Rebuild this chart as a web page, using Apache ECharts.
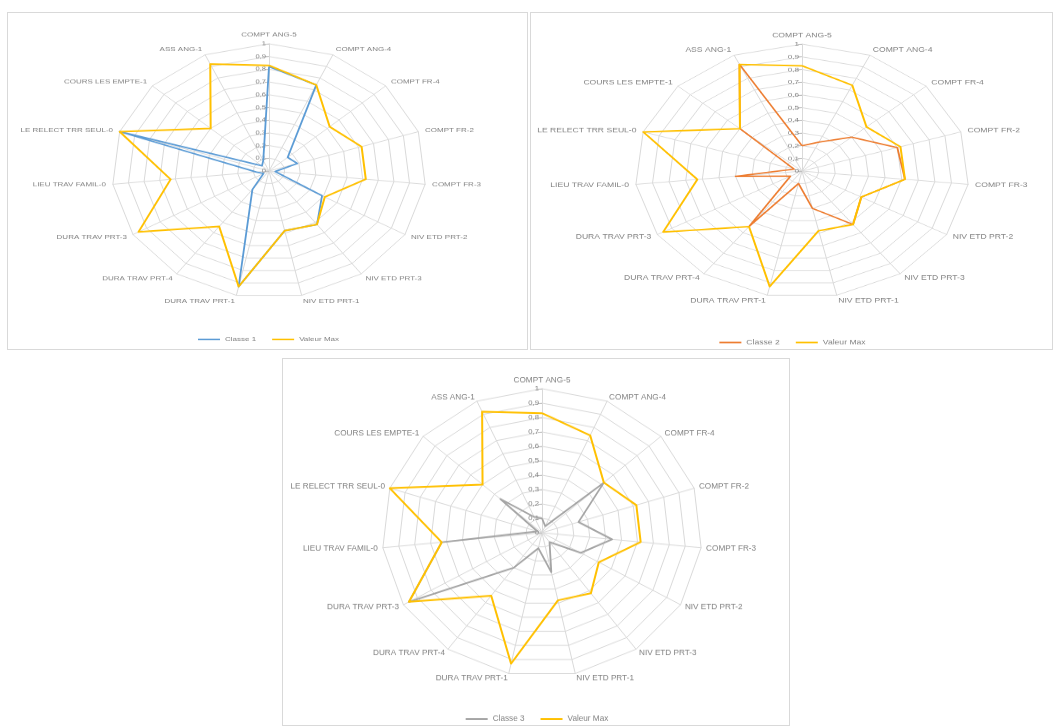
<!DOCTYPE html>
<html>
<head>
<meta charset="utf-8">
<script src="https://cdn.jsdelivr.net/npm/echarts@6/dist/echarts.min.js"></script>
<style>
  html, body { margin: 0; padding: 0; background: #ffffff; }
  body { width: 1062px; height: 726px; position: relative; overflow: hidden; }
  .panel { position: absolute; border: 1px solid #d9d9d9; box-sizing: border-box; overflow: hidden; background: #fff; }
  .chart { position: absolute; left: 0; top: 0; transform-origin: 0 0; }
</style>
</head>
<body>
<div id="p1" class="panel" style="left:7px;top:12px;width:521px;height:338px;"><div id="c1" class="chart"></div></div>
<div id="p2" class="panel" style="left:530px;top:12px;width:523px;height:338px;"><div id="c2" class="chart"></div></div>
<div id="p3" class="panel" style="left:282px;top:358px;width:508px;height:368px;"><div id="c3" class="chart"></div></div>
<script>
// Axes of the radar, clockwise from the top
const categories = [
  'COMPT ANG-5', 'COMPT ANG-4', 'COMPT FR-4', 'COMPT FR-2', 'COMPT FR-3',
  'NIV ETD PRT-2', 'NIV ETD PRT-3', 'NIV ETD PRT-1',
  'DURA TRAV PRT-1', 'DURA TRAV PRT-4', 'DURA TRAV PRT-3',
  'LIEU TRAV FAMIL-0', 'LE RELECT TRR SEUL-0', 'COURS LES EMPTE-1', 'ASS ANG-1'
];

// Scores per class and the maximum over all classes
const classe1   = [0.82, 0.74, 0.16, 0.19, 0.04, 0.39, 0.52, 0.48, 0.93, 0.18, 0.04, 0.08, 1.00, 0.06, 0.09];
const classe2   = [0.20, 0.25, 0.40, 0.60, 0.62, 0.41, 0.52, 0.30, 0.10, 0.54, 0.08, 0.40, 0.05, 0.50, 0.92];
const classe3   = [0.10, 0.05, 0.52, 0.24, 0.44, 0.28, 0.08, 0.28, 0.11, 0.30, 0.96, 0.63, 0.03, 0.35, 0.12];
const valeurMax = [0.83, 0.74, 0.52, 0.62, 0.62, 0.41, 0.52, 0.48, 0.93, 0.54, 0.96, 0.63, 1.00, 0.50, 0.92];

// Scale ticks shown on the first axis
const scaleTicks = ['0', '0,1', '0,2', '0,3', '0,4', '0,5', '0,6', '0,7', '0,8', '0,9', '1'];

const COLORS = { c1: '#5b9bd5', c2: '#ed7d31', c3: '#a5a5a5', max: '#ffc000' };
const GRID = '#d9d9d9';
const TEXT = '#808080';
const FONT = 'Liberation Sans, Arial, sans-serif';

// ECharts lays radar axes out counter-clockwise; keep the first axis on top
// and reverse the rest so the reading order runs clockwise.
const clockwise = arr => [arr[0]].concat(arr.slice(1).reverse());

function radarOption(name, values, color, cx, cy, r, legendTop, fs, gap) {
  return {
    animation: false,
    textStyle: { fontFamily: FONT },
    legend: {
      top: legendTop, left: 'center',
      icon: 'rect', itemWidth: 22, itemHeight: 2, itemGap: 16,
      textStyle: { color: TEXT, fontSize: fs, fontFamily: FONT },
      data: [name, 'Valeur Max']
    },
    radar: {
      center: [cx, cy], radius: r, startAngle: 90, shape: 'polygon',
      splitNumber: 10,
      indicator: clockwise(categories).map(c => ({ name: c, min: 0, max: 1 })),
      axisName: { color: TEXT, fontSize: fs, fontFamily: FONT },
      nameGap: gap,
      axisLine: { lineStyle: { color: GRID, width: 1 } },
      splitLine: { lineStyle: { color: GRID, width: 1 } },
      splitArea: { show: false }
    },
    polar: { center: [cx, cy], radius: r },
    angleAxis: { show: false, startAngle: 90, min: 0, max: 360 },
    radiusAxis: {
      min: 0, max: 1, interval: 0.1,
      axisLine: { show: false },
      splitLine: { show: false },
      axisTick: { show: true, length: 4, lineStyle: { color: '#bfbfbf' } },
      axisLabel: {
        color: TEXT, fontSize: fs - 0.5, fontFamily: FONT, margin: 3,
        formatter: v => scaleTicks[Math.round(v * 10)]
      }
    },
    series: [{
      type: 'radar', symbol: 'none',
      data: [
        { name: name, value: clockwise(values), lineStyle: { color: color, width: 1.8 }, itemStyle: { color: color } },
        { name: 'Valeur Max', value: clockwise(valeurMax), lineStyle: { color: COLORS.max, width: 2 }, itemStyle: { color: COLORS.max } }
      ]
    }]
  };
}

function mount(id, width, height, sy, opt) {
  const el = document.getElementById(id);
  el.style.width = width + 'px';
  el.style.height = (height / sy) + 'px';
  el.style.transform = 'scaleY(' + sy + ')';
  const chart = echarts.init(el, null, { renderer: 'canvas' });
  chart.setOption(opt);
}

// Each panel is drawn with its own vertical flattening
mount('c1', 521, 338, 0.81, radarOption('Classe 1', classe1, COLORS.c1, 261, 195, 157, 394, 8, 7));
mount('c2', 523, 338, 0.76, radarOption('Classe 2', classe2, COLORS.c2, 271, 208, 167, 424, 8.6, 7));
mount('c3', 508, 368, 0.90, radarOption('Classe 3', classe3, COLORS.c3, 259, 193, 160, 391, 8.2, 5));
</script>
</body>
</html>
